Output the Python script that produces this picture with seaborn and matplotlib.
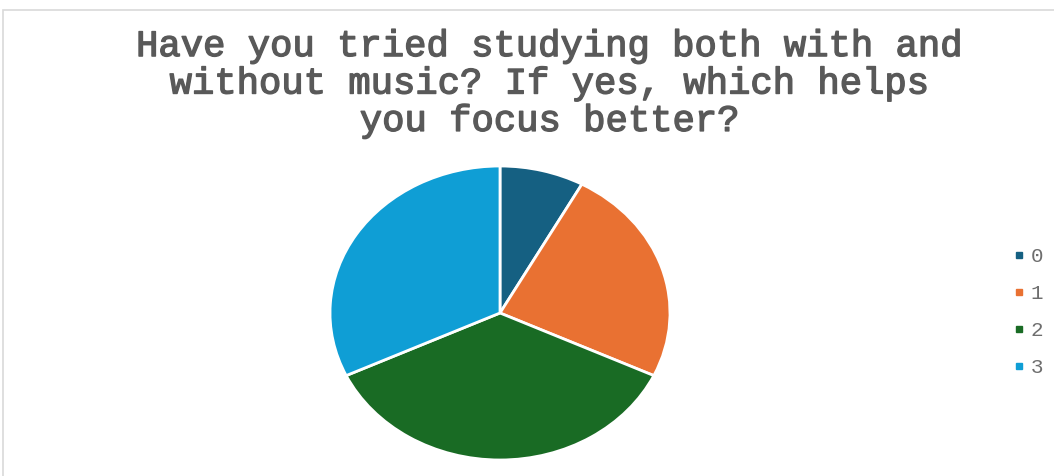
import matplotlib
matplotlib.use("Agg")
import matplotlib.pyplot as plt
import matplotlib.patheffects as pe
from matplotlib.patches import Rectangle
from matplotlib.lines import Line2D
import seaborn as sns

# Survey answers and response counts
categories = ["0", "1", "2", "3"]
counts = [2, 6, 9, 8]
colors = ["#156082", "#E97132", "#196B24", "#0F9ED5"]
title = "Have you tried studying both with and\nwithout music? If yes, which helps\nyou focus better?"

sns.set_theme(style="white")
plt.rcParams["font.family"] = ["Liberation Mono", "DejaVu Sans"]

W, H = 1054, 476
fig = plt.figure(figsize=(W / 100, H / 100), dpi=100)
fig.patch.set_facecolor("white")

# light chart-area border (right and bottom run off the canvas)
fig.patches.append(Rectangle((3 / W, -0.1), 1.2, (H - 10) / H + 0.1,
                             transform=fig.transFigure, fill=False,
                             edgecolor="#D9D9D9", linewidth=1.2))

# pie axes: slightly wider than tall
cx, cy, rx, ry = 500, 313, 170, 147
pad = 1.05
ax = fig.add_axes([(cx - rx * pad) / W, (H - cy - ry * pad) / H,
                   2 * rx * pad / W, 2 * ry * pad / H])
wedges, _ = ax.pie(counts, colors=colors, startangle=90, counterclock=False,
                   wedgeprops=dict(edgecolor="white", linewidth=2))
ax.set_aspect("auto")
ax.set_xlim(-pad, pad)
ax.set_ylim(-pad, pad)
ax.axis("off")

fig.text(550 / W, 1 - 84 / H, title, ha="center", va="center", fontsize=26.8,
         fontweight="normal", color="#595959", linespacing=1.09,
         family=["Liberation Mono", "DejaVu Sans"],
         path_effects=[pe.withStroke(linewidth=1.0, foreground="#595959")])

handles = [Line2D([], [], linestyle="none", marker="s", markersize=4.5,
                  markerfacecolor=c, markeredgecolor=c) for c in colors]
leg = fig.legend(handles, categories, loc="center left",
                 bbox_to_anchor=(1004 / W, 1 - 312 / H), frameon=False,
                 fontsize=15, labelspacing=0.86, handlelength=0.62,
                 handletextpad=0.25, borderaxespad=0)
for t in leg.get_texts():
    t.set_color("#6E6E6E")

fig.savefig("out.png", dpi=100, facecolor="white")
